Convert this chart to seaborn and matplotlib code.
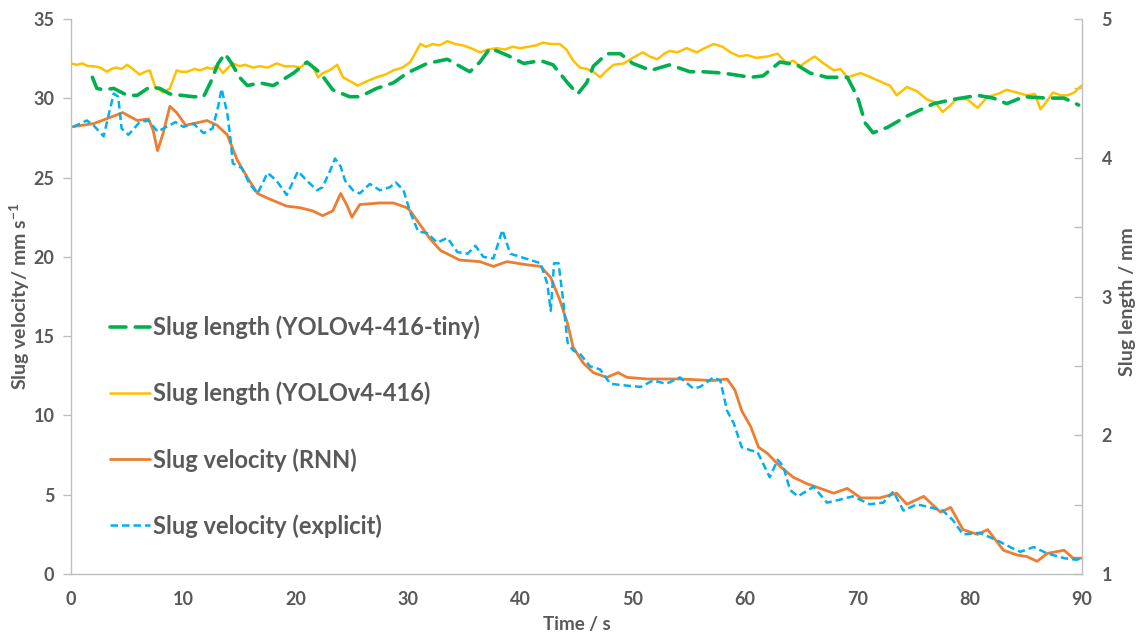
import matplotlib
matplotlib.use("Agg")
import matplotlib.pyplot as plt
from matplotlib.lines import Line2D
from matplotlib.ticker import MultipleLocator
import seaborn as sns

# Slug length, YOLOv4-416-tiny (mm)
tiny_t = [1.9, 2.3, 2.9, 3.8, 5.0, 5.9, 7.0, 7.9, 8.8, 10.9, 11.8, 12.4, 13.1, 13.7,
          14.3, 15.0, 15.7, 16.8, 18.0, 19.8, 21.0, 22.2, 23.3, 24.8, 25.7, 27.2, 28.7,
          29.9, 31.7, 33.5, 34.6, 35.5, 36.4, 37.3, 38.8, 40.3, 41.8, 42.9, 44.2, 45.1,
          45.9, 46.5, 47.7, 48.9, 50.0, 51.6, 53.3, 55.1, 56.3, 58.1, 60.5, 61.6, 63.1,
          64.6, 65.8, 67.3, 69.1, 70.0, 70.7, 71.4, 72.7, 74.4, 76.8, 78.5, 80.7, 82.1,
          83.3, 84.8, 86.9, 88.4, 89.7]
tiny_len = [4.58, 4.50, 4.49, 4.50, 4.45, 4.45, 4.51, 4.50, 4.46, 4.44, 4.44, 4.54, 4.68, 4.75,
            4.68, 4.58, 4.52, 4.54, 4.52, 4.61, 4.69, 4.61, 4.49, 4.44, 4.44, 4.50, 4.54,
            4.61, 4.68, 4.71, 4.66, 4.62, 4.69, 4.79, 4.74, 4.68, 4.70, 4.67, 4.54, 4.46,
            4.54, 4.66, 4.75, 4.75, 4.68, 4.63, 4.67, 4.62, 4.62, 4.61, 4.58, 4.59, 4.69,
            4.67, 4.61, 4.58, 4.58, 4.44, 4.25, 4.18, 4.22, 4.30, 4.39, 4.42, 4.45, 4.43,
            4.39, 4.44, 4.43, 4.43, 4.38]

# Slug length, YOLOv4-416 (mm)
full_t = [0.0, 0.5, 1.0, 1.5, 2.0, 2.6, 3.2, 3.6, 4.0, 4.5, 5.0, 5.5, 6.1, 6.6, 7.0, 7.5,
          8.2, 8.8, 9.4, 9.8, 10.3, 11.0, 11.5, 12.1, 12.6, 13.0, 13.5, 14.0, 14.4, 15.0,
          15.5, 16.2, 16.8, 17.5, 18.3, 19.0, 19.8, 20.4, 21.0, 21.5, 22.0, 22.4, 23.0,
          23.7, 24.2, 25.1, 25.5, 26.3, 27.2, 28.0, 28.7, 29.5, 30.2, 31.1, 31.6, 32.2,
          32.8, 33.5, 34.2, 34.9, 35.6, 36.4, 37.1, 37.9, 38.6, 39.3, 40.0, 40.7, 41.4,
          42.0, 42.7, 43.5, 44.1, 44.7, 45.3, 45.9, 46.5, 47.1, 47.7, 48.3, 49.2, 50.0,
          50.9, 51.5, 52.2, 52.8, 53.3, 54.0, 54.8, 55.7, 56.4, 57.2, 58.0, 58.7, 59.5,
          60.2, 61.0, 62.0, 62.9, 63.7, 64.3, 64.9, 65.6, 66.2, 67.0, 67.9, 68.5, 69.1,
          70.3, 71.2, 72.3, 72.9, 73.5, 74.4, 75.3, 76.2, 76.9, 77.6, 78.3, 78.9, 79.8,
          80.7, 81.6, 82.5, 83.3, 84.2, 85.1, 85.8, 86.3, 86.8, 87.4, 88.1, 88.7, 89.3,
          89.8, 90.0]
full_len = [4.68, 4.67, 4.68, 4.66, 4.66, 4.65, 4.62, 4.64, 4.65, 4.64, 4.67, 4.64, 4.60,
            4.62, 4.63, 4.51, 4.47, 4.50, 4.63, 4.62, 4.62, 4.64, 4.63, 4.65, 4.64, 4.67,
            4.61, 4.65, 4.68, 4.66, 4.67, 4.65, 4.66, 4.65, 4.68, 4.66, 4.66, 4.65, 4.69,
            4.66, 4.58, 4.61, 4.63, 4.67, 4.58, 4.54, 4.52, 4.55, 4.58, 4.60, 4.63, 4.65,
            4.69, 4.82, 4.80, 4.82, 4.81, 4.84, 4.82, 4.81, 4.79, 4.76, 4.78, 4.79, 4.78,
            4.80, 4.79, 4.80, 4.81, 4.83, 4.82, 4.82, 4.78, 4.70, 4.65, 4.64, 4.62, 4.58,
            4.63, 4.67, 4.68, 4.72, 4.76, 4.73, 4.71, 4.75, 4.77, 4.76, 4.79, 4.76, 4.79,
            4.82, 4.80, 4.76, 4.73, 4.74, 4.72, 4.73, 4.75, 4.68, 4.70, 4.66, 4.70, 4.73,
            4.68, 4.63, 4.64, 4.58, 4.61, 4.58, 4.54, 4.52, 4.45, 4.51, 4.48, 4.42, 4.40,
            4.33, 4.38, 4.43, 4.42, 4.36, 4.44, 4.46, 4.49, 4.47, 4.45, 4.46, 4.35, 4.40,
            4.47, 4.45, 4.45, 4.47, 4.51, 4.52]

# Slug velocity, RNN (mm/s)
rnn_t = [0.0, 2.0, 3.5, 4.6, 5.9, 6.9, 7.3, 7.7, 8.2, 8.8, 9.4, 10.2, 11.5, 12.1, 13.0,
         13.9, 14.8, 15.7, 16.6, 17.5, 19.2, 20.4, 21.5, 22.4, 23.3, 24.0, 24.6, 25.0,
         25.7, 27.5, 28.7, 29.9, 30.2, 31.1, 32.0, 32.9, 34.6, 36.4, 37.6, 38.8, 40.6,
         41.8, 42.7, 43.5, 44.2, 44.7, 45.6, 46.5, 47.7, 48.7, 49.5, 51.3, 54.2, 57.2,
         58.4, 59.1, 59.7, 60.5, 61.2, 62.0, 63.1, 64.3, 65.5, 66.7, 67.9, 69.1, 70.3,
         72.0, 73.5, 74.4, 75.9, 77.4, 78.3, 79.4, 80.7, 81.6, 83.0, 84.2, 85.1, 86.0,
         86.9, 88.4, 89.2, 90.0]
rnn_v = [28.2, 28.4, 28.8, 29.1, 28.6, 28.7, 28.0, 26.7, 27.8, 29.5, 29.1, 28.3, 28.5, 28.6,
         28.3, 27.7, 26.1, 25.0, 24.0, 23.7, 23.2, 23.1, 22.9, 22.6, 22.9, 24.0, 23.2, 22.5,
         23.3, 23.4, 23.4, 23.1, 22.9, 22.0, 21.1, 20.4, 19.8, 19.7, 19.4, 19.7, 19.5, 19.4,
         18.7, 17.3, 15.8, 14.3, 13.3, 12.7, 12.4, 12.7, 12.4, 12.3, 12.3, 12.2, 12.3, 11.6,
         10.3, 9.3, 8.0, 7.6, 6.8, 6.1, 5.7, 5.4, 5.1, 5.4, 4.8, 4.8, 5.1, 4.4, 4.9, 3.9,
         4.2, 2.8, 2.5, 2.8, 1.5, 1.2, 1.1, 0.8, 1.3, 1.5, 1.0, 1.0]

# Slug velocity, explicit (mm/s)
exp_t = [0.2, 1.4, 2.0, 2.9, 3.3, 3.8, 4.2, 4.5, 5.1, 5.5, 6.1, 6.9, 7.7, 8.5, 9.3, 10.0,
         10.9, 11.8, 12.6, 13.1, 13.4, 13.9, 14.2, 14.4, 15.2, 15.9, 16.6, 17.5, 18.3, 19.2,
         20.2, 21.0, 21.9, 22.4, 23.1, 23.5, 24.0, 24.4, 25.1, 25.7, 26.6, 27.5, 28.4, 28.9,
         29.6, 30.2, 30.9, 31.7, 32.6, 33.5, 34.4, 35.3, 36.0, 36.7, 37.6, 38.4, 39.1, 40.0,
         40.9, 41.8, 42.4, 42.7, 43.0, 43.4, 43.8, 44.2, 44.7, 45.3, 46.2, 47.1, 48.0, 49.2,
         50.7, 51.8, 53.0, 54.2, 55.4, 56.0, 57.2, 57.8, 58.4, 59.0, 59.7, 60.5, 61.1, 62.2,
         62.9, 63.4, 64.0, 64.7, 66.1, 67.3, 68.5, 69.6, 71.1, 72.3, 73.2, 74.1, 75.3, 76.5,
         77.6, 78.5, 79.4, 80.9, 82.5, 83.6, 84.5, 85.7, 86.9, 88.4, 89.5, 90.0]
exp_v = [28.2, 28.6, 28.3, 27.6, 28.8, 30.3, 30.1, 28.1, 27.7, 28.0, 28.5, 28.6, 27.9, 28.2,
         28.5, 28.2, 28.4, 27.8, 28.1, 29.5, 30.6, 29.1, 27.4, 25.9, 25.6, 24.6, 24.0, 25.3,
         24.8, 23.9, 25.4, 24.8, 24.2, 24.4, 25.5, 26.2, 25.7, 24.8, 24.2, 24.0, 24.6, 24.2,
         24.4, 24.7, 24.2, 22.8, 21.6, 21.5, 20.9, 21.2, 20.3, 20.2, 20.7, 20.0, 19.9, 21.7,
         20.2, 20.0, 19.8, 19.6, 18.3, 16.6, 19.6, 19.6, 17.3, 14.6, 14.1, 13.9, 13.1, 12.9,
         12.0, 11.9, 11.8, 12.2, 12.0, 12.4, 11.7, 11.8, 12.4, 12.2, 10.3, 9.5, 8.0, 7.8,
         7.7, 6.1, 7.2, 6.8, 5.3, 4.9, 5.5, 4.5, 4.7, 4.9, 4.4, 4.5, 5.2, 4.0, 4.4, 4.2, 4.0,
         3.4, 2.5, 2.6, 2.1, 1.7, 1.4, 1.7, 1.3, 1.0, 0.9, 1.0]

labels = ["Slug length (YOLOv4-416-tiny)", "Slug length (YOLOv4-416)",
          "Slug velocity (RNN)", "Slug velocity (explicit)"]

GREEN, YELLOW, ORANGE, BLUE = "#00B050", "#FFC000", "#ED7D31", "#00B0F0"
TEXT = "#595959"
AXIS = "#BFBFBF"

sns.set_theme(style="white")
plt.rcParams["font.family"] = ["Lato", "DejaVu Sans"]
plt.rcParams["mathtext.fontset"] = "custom"
plt.rcParams["mathtext.rm"] = "Lato"
plt.rcParams["mathtext.bf"] = "Lato:bold"

fig = plt.figure(figsize=(11.42, 6.34), dpi=100)
ax = fig.add_axes([0.0622, 0.0946, 0.8853, 0.8754])
ax2 = ax.twinx()

tiny_style = dict(linewidth=2.6, linestyle=(0, (4.4, 2.6)), dash_capstyle="round")
exp_style = dict(linewidth=1.8, linestyle=(0, (3.0, 1.6)))

sns.lineplot(x=rnn_t, y=rnn_v, ax=ax, color=ORANGE, linewidth=2.0, errorbar=None, legend=False)
sns.lineplot(x=exp_t, y=exp_v, ax=ax, color=BLUE, errorbar=None, legend=False, **exp_style)
sns.lineplot(x=full_t, y=full_len, ax=ax2, color=YELLOW, linewidth=1.8, errorbar=None, legend=False)
sns.lineplot(x=tiny_t, y=tiny_len, ax=ax2, color=GREEN, errorbar=None, legend=False, **tiny_style)

ax.set_xlim(0, 90)
ax.set_ylim(0, 35)
ax2.set_ylim(1, 5)
ax.xaxis.set_major_locator(MultipleLocator(10))
ax.xaxis.set_minor_locator(MultipleLocator(2))
ax.yaxis.set_major_locator(MultipleLocator(5))
ax2.yaxis.set_major_locator(MultipleLocator(1))
ax2.yaxis.set_minor_locator(MultipleLocator(0.5))

for a in (ax, ax2):
    a.spines["top"].set_visible(False)
    for side in ("left", "right", "bottom"):
        a.spines[side].set_color(AXIS)
        a.spines[side].set_linewidth(1.0)
ax.spines["right"].set_visible(False)
ax2.spines["left"].set_visible(False)
ax2.spines["bottom"].set_visible(False)

tick_font = dict(labelsize=13, labelcolor=TEXT, color=AXIS)
ax.tick_params(axis="x", which="major", direction="out", length=6, width=1, pad=6, **tick_font)
ax.tick_params(axis="x", which="minor", direction="out", length=5, width=1, color=AXIS)
ax.tick_params(axis="y", which="major", direction="out", length=6, width=1, pad=6, **tick_font)
ax2.tick_params(axis="y", which="major", direction="in", length=6, width=1, pad=14, **tick_font)
ax2.tick_params(axis="y", which="minor", direction="in", length=6, width=1, color=AXIS)
for lab in ax.get_xticklabels() + ax.get_yticklabels() + ax2.get_yticklabels():
    lab.set_fontweight("bold")

ax.set_xlabel("Time / s", fontsize=13.5, fontweight="bold", color=TEXT)
ax.set_ylabel(r"Slug velocity/ mm s$^{\mathbf{-1}}$", fontsize=14, fontweight="bold", color=TEXT)
ax2.set_ylabel("Slug length / mm", fontsize=14, fontweight="bold", color=TEXT)
ax.yaxis.set_label_coords(-0.039, 0.5)
ax2.yaxis.set_label_coords(1.037, 0.49)
ax.xaxis.set_label_coords(0.5, -0.075)
ax.grid(False)
ax2.grid(False)

handles = [
    Line2D([], [], color=GREEN, **tiny_style),
    Line2D([], [], color=YELLOW, linewidth=1.8),
    Line2D([], [], color=ORANGE, linewidth=2.0),
    Line2D([], [], color=BLUE, **exp_style),
]
leg = ax2.legend(handles, labels, loc="upper left", bbox_to_anchor=(0.096, 0.502),
                 bbox_transform=fig.transFigure, frameon=False, fontsize=17,
                 handlelength=1.7, handletextpad=0.15, labelspacing=1.8,
                 borderpad=0, borderaxespad=0)
for txt in leg.get_texts():
    txt.set_color(TEXT)
    txt.set_fontweight("bold")

fig.savefig("out.png", dpi=100)
